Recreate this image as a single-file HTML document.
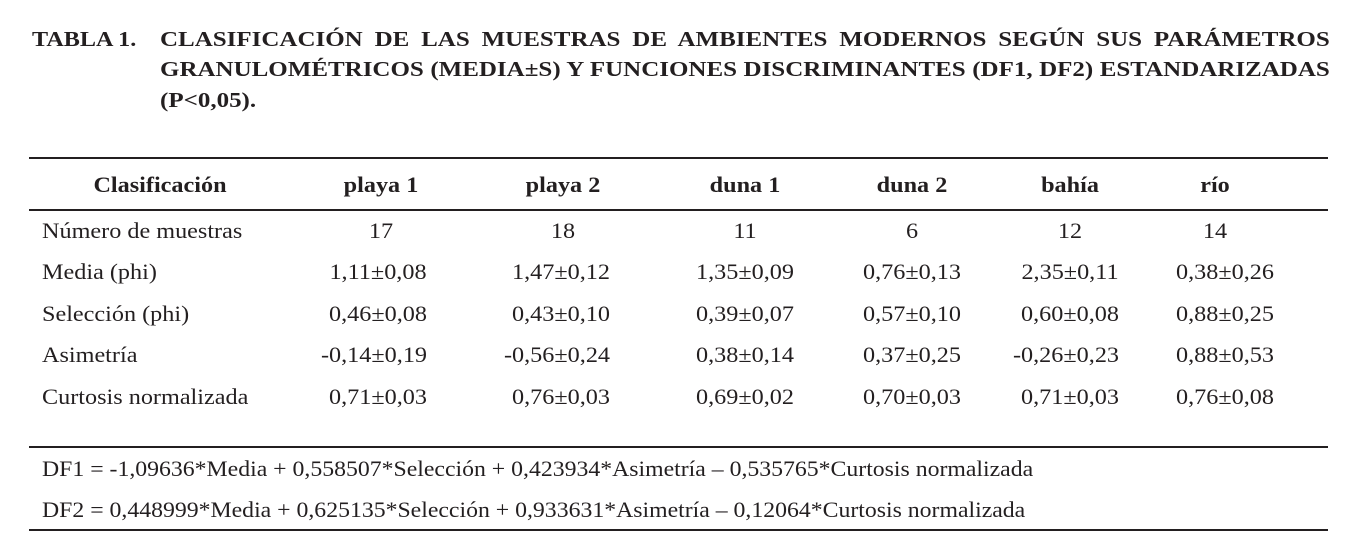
<!DOCTYPE html>
<html><head><meta charset="utf-8"><style>
body{margin:0;width:1363px;height:553px;background:#fff;position:relative;font-family:"Liberation Serif","Times New Roman",serif;color:#231f20;overflow:hidden}
.a{position:absolute;white-space:nowrap;transform-origin:0 0}
.t{font-weight:bold;font-size:21px;transform:scaleX(1.19)}
.j{width:983px;text-align:justify;text-align-last:justify}
.c{position:absolute;transform:translate(-50%,-50%) scaleX(1.1);white-space:nowrap;font-size:22px}
.l{position:absolute;transform:translateY(-50%) scaleX(1.1);transform-origin:0 50%;white-space:nowrap;font-size:22px}
.h{font-weight:bold}
.r{position:absolute;left:29px;width:1299px;height:1.5px;background:#231f20}
</style></head><body>
<div class="a t" style="left:32px;top:27px;transform:scaleX(1.15)">TABLA 1.</div>
<div class="a t j" style="left:160px;top:27px">CLASIFICACIÓN DE LAS MUESTRAS DE AMBIENTES MODERNOS SEGÚN SUS PARÁMETROS</div>
<div class="a t j" style="left:160px;top:57px">GRANULOMÉTRICOS (MEDIA±S) Y FUNCIONES DISCRIMINANTES (DF1, DF2) ESTANDARIZADAS</div>
<div class="a t" style="left:160px;top:88px">(P&lt;0,05).</div>
<div class="r" style="top:157px"></div>
<div class="r" style="top:209px"></div>
<div class="r" style="top:446px"></div>
<div class="r" style="top:529px"></div>
<div class="c h" style="left:160px;top:185px">Clasificación</div>
<div class="c h" style="left:381px;top:185px">playa 1</div>
<div class="c h" style="left:563px;top:185px">playa 2</div>
<div class="c h" style="left:745px;top:185px">duna 1</div>
<div class="c h" style="left:912px;top:185px">duna 2</div>
<div class="c h" style="left:1070px;top:185px">bahía</div>
<div class="c h" style="left:1215px;top:185px">río</div>

<div class="l" style="left:42px;top:231px">Número de muestras</div>
<div class="c" style="left:381px;top:231px">17</div><div class="c" style="left:563px;top:231px">18</div><div class="c" style="left:745px;top:231px">11</div><div class="c" style="left:912px;top:231px">6</div><div class="c" style="left:1070px;top:231px">12</div><div class="c" style="left:1215px;top:231px">14</div>

<div class="l" style="left:42px;top:272px">Media (phi)</div>
<div class="c" style="left:378px;top:272px">1,11±0,08</div><div class="c" style="left:561px;top:272px">1,47±0,12</div><div class="c" style="left:745px;top:272px">1,35±0,09</div><div class="c" style="left:912px;top:272px">0,76±0,13</div><div class="c" style="left:1070px;top:272px">2,35±0,11</div><div class="c" style="left:1225px;top:272px">0,38±0,26</div>

<div class="l" style="left:42px;top:314px">Selección (phi)</div>
<div class="c" style="left:378px;top:314px">0,46±0,08</div><div class="c" style="left:561px;top:314px">0,43±0,10</div><div class="c" style="left:745px;top:314px">0,39±0,07</div><div class="c" style="left:912px;top:314px">0,57±0,10</div><div class="c" style="left:1070px;top:314px">0,60±0,08</div><div class="c" style="left:1225px;top:314px">0,88±0,25</div>

<div class="l" style="left:42px;top:355px">Asimetría</div>
<div class="c" style="left:374px;top:355px">-0,14±0,19</div><div class="c" style="left:557px;top:355px">-0,56±0,24</div><div class="c" style="left:745px;top:355px">0,38±0,14</div><div class="c" style="left:912px;top:355px">0,37±0,25</div><div class="c" style="left:1066px;top:355px">-0,26±0,23</div><div class="c" style="left:1225px;top:355px">0,88±0,53</div>

<div class="l" style="left:42px;top:397px">Curtosis normalizada</div>
<div class="c" style="left:378px;top:397px">0,71±0,03</div><div class="c" style="left:561px;top:397px">0,76±0,03</div><div class="c" style="left:745px;top:397px">0,69±0,02</div><div class="c" style="left:912px;top:397px">0,70±0,03</div><div class="c" style="left:1070px;top:397px">0,71±0,03</div><div class="c" style="left:1225px;top:397px">0,76±0,08</div>

<div class="l" style="left:42px;top:469px;transform:translateY(-50%) scaleX(1.08)">DF1 = -1,09636*Media + 0,558507*Selección + 0,423934*Asimetría – 0,535765*Curtosis normalizada</div>
<div class="l" style="left:42px;top:510px;transform:translateY(-50%) scaleX(1.08)">DF2 = 0,448999*Media + 0,625135*Selección + 0,933631*Asimetría – 0,12064*Curtosis normalizada</div>
</body></html>
